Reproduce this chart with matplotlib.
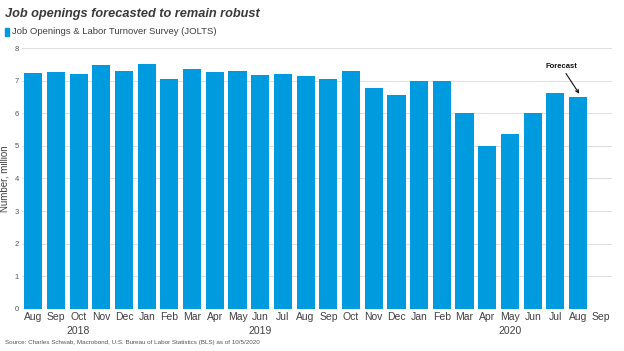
import matplotlib
matplotlib.use("Agg")
import matplotlib.pyplot as plt
import numpy as np

plt.rcParams['font.family'] = ['Liberation Sans', 'DejaVu Sans']

months = ["Aug", "Sep", "Oct", "Nov", "Dec", "Jan", "Feb", "Mar", "Apr", "May", "Jun", "Jul",
          "Aug", "Sep", "Oct", "Nov", "Dec", "Jan", "Feb", "Mar", "Apr", "May", "Jun", "Jul",
          "Aug", "Sep"]
values = [7.24, 7.27, 7.22, 7.49, 7.29, 7.50, 7.04, 7.35, 7.27, 7.29, 7.18, 7.22,
          7.15, 7.04, 7.29, 6.79, 6.55, 7.00, 6.99, 6.01, 5.01, 5.37, 6.00, 6.62, 6.49]
year_labels = ["2018", "2019", "2020"]
year_positions = [2, 10, 21]
yticks = [0, 1, 2, 3, 4, 5, 6, 7, 8]

bar_color = "#009ADE"
text_color = "#404040"

fig = plt.figure(figsize=(6.24, 3.51), dpi=100)
ax = fig.add_axes([0.035, 0.12, 0.946, 0.743])

x = np.arange(len(values))
ax.bar(x, values, width=0.8, color=bar_color, zorder=2)

ax.set_xlim(-0.5, len(months) - 0.5)
ax.set_ylim(0, 8)
ax.set_yticks(yticks)
ax.set_yticklabels([str(t) for t in yticks], fontsize=5.5, color="#555555")
ax.set_xticks(np.arange(len(months)))
ax.set_xticklabels(months, fontsize=7.5, color=text_color)
ax.tick_params(axis='both', length=0, pad=2)
ax.tick_params(axis='x', pad=2)
ax.grid(axis='y', color="#e0e0e0", linewidth=0.7, zorder=0)
for s in ax.spines.values():
    s.set_visible(False)

for lbl, pos in zip(year_labels, year_positions):
    ax.text(pos, -0.065, lbl, transform=ax.get_xaxis_transform(), ha='center', va='top',
            fontsize=7.5, color=text_color)

ax.set_ylabel("Number, million", fontsize=7, color=text_color, labelpad=4)

ax.annotate("Forecast", xy=(24.05, 6.6), xytext=(23.25, 7.45),
            fontsize=5.5, fontweight='bold', color="#111111", ha='center', va='center',
            arrowprops=dict(arrowstyle='->', color="#111111", lw=0.8, shrinkA=1, shrinkB=0))

fig.text(0.008, 0.961, "Job openings forecasted to remain robust", fontsize=9.2,
         fontweight='bold', fontstyle='italic', color="#3a3a3a", ha='left', va='center')
fig.patches.append(matplotlib.patches.Rectangle((0.008, 0.898), 0.006, 0.022,
                   transform=fig.transFigure, color=bar_color, figure=fig))
fig.text(0.019, 0.909, "Job Openings & Labor Turnover Survey (JOLTS)", fontsize=6.8,
         color=text_color, ha='left', va='center')
fig.text(0.008, 0.025, "Source: Charles Schwab, Macrobond, U.S. Bureau of Labor Statistics (BLS) as of 10/5/2020",
         fontsize=4.5, color="#555555", ha='left', va='center')

fig.savefig("out.png", dpi=100)
